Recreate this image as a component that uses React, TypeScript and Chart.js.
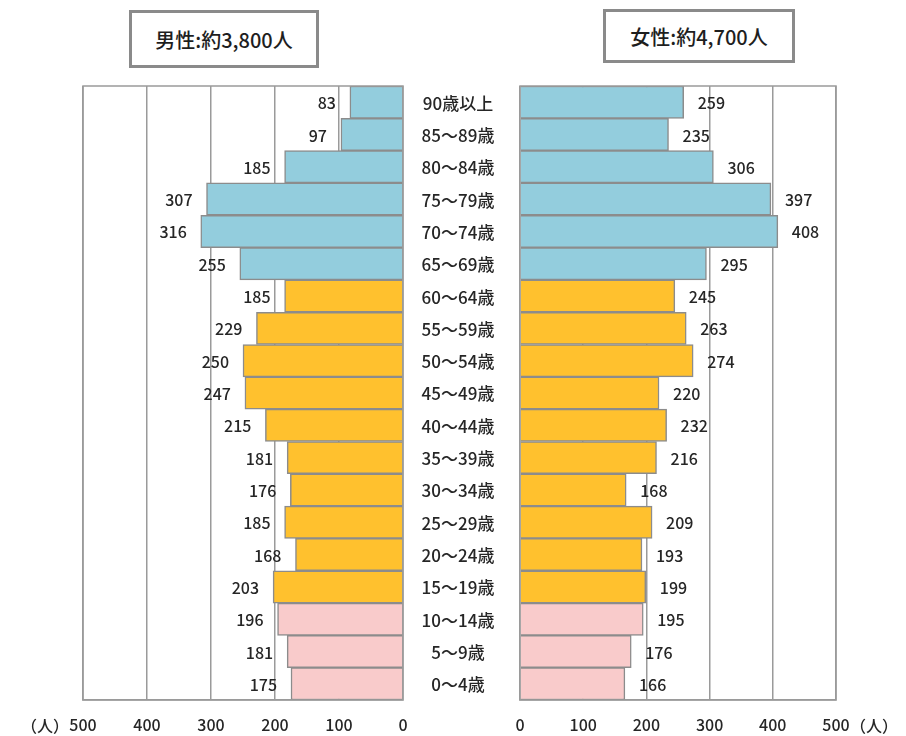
import React, { useEffect, useRef } from "react";
import { Chart, registerables } from "chart.js";

Chart.register(...registerables);

// Age groups, top (oldest) to bottom (youngest)
const ageGroups = [
  "90歳以上", "85〜89歳", "80〜84歳", "75〜79歳", "70〜74歳", "65〜69歳",
  "60〜64歳", "55〜59歳", "50〜54歳", "45〜49歳", "40〜44歳", "35〜39歳",
  "30〜34歳", "25〜29歳", "20〜24歳", "15〜19歳", "10〜14歳", "5〜9歳", "0〜4歳",
];
const maleCounts = [83, 97, 185, 307, 316, 255, 185, 229, 250, 247, 215, 181, 176, 185, 168, 203, 196, 181, 175];
const femaleCounts = [259, 235, 306, 397, 408, 295, 245, 263, 274, 220, 232, 216, 168, 209, 193, 199, 195, 176, 166];
const axisTicks = [0, 100, 200, 300, 400, 500];
const maleTitle = "男性:約3,800人";
const femaleTitle = "女性:約4,700人";
const unitLabel = "（人）";

const FONT = "'Noto Sans CJK JP', 'Noto Sans', sans-serif";
const TEXT = "#262626";
const LINE = "#9a9a9a";

// Colour by age band: 65+ blue, 15–64 orange, 0–14 pink
function bandColor(label: string): string {
  const start = parseInt(label, 10);
  if (start >= 65) return "#93cddd";
  if (start >= 15) return "#ffc12e";
  return "#f9cbcb";
}

const framePlugin = {
  id: "frame",
  afterDatasetsDraw(chart: any) {
    const { ctx, chartArea: a } = chart;
    ctx.save();
    ctx.strokeStyle = LINE;
    ctx.lineWidth = 1.5;
    ctx.strokeRect(a.left, a.top, a.right - a.left, a.bottom - a.top);
    ctx.restore();
  },
};

function valueLabelPlugin(leftSide: boolean) {
  return {
    id: "valueLabels",
    afterDatasetsDraw(chart: any) {
      const { ctx } = chart;
      const meta = chart.getDatasetMeta(0);
      const values = chart.data.datasets[0].data as number[];
      ctx.save();
      ctx.font = `500 16px ${FONT}`;
      ctx.fillStyle = TEXT;
      ctx.textBaseline = "middle";
      ctx.textAlign = leftSide ? "right" : "left";
      meta.data.forEach((bar: any, i: number) => {
        const x = leftSide ? bar.x - 14 : bar.x + 14;
        ctx.fillText(String(values[i]), x, bar.y + 1);
      });
      ctx.restore();
    },
  };
}

const centerLabelsPlugin = {
  id: "centerLabels",
  afterDraw(chart: any) {
    const { ctx } = chart;
    const yScale = chart.scales.y;
    ctx.save();
    ctx.font = `500 17px ${FONT}`;
    ctx.fillStyle = TEXT;
    ctx.textBaseline = "middle";
    ctx.textAlign = "center";
    ageGroups.forEach((label, i) => {
      ctx.fillText(label, 458, yScale.getPixelForValue(i) + 1);
    });
    ctx.restore();
  },
};

function makeConfig(values: number[], leftSide: boolean): any {
  return {
    type: "bar",
    data: {
      labels: ageGroups,
      datasets: [
        {
          data: values,
          backgroundColor: ageGroups.map(bandColor),
          borderColor: "#8c8c8c",
          borderWidth: 1.5,
          barPercentage: 1,
          categoryPercentage: 1,
        },
      ],
    },
    options: {
      indexAxis: "y",
      animation: false,
      responsive: false,
      layout: {
        padding: leftSide
          ? { left: 83, right: 503, top: 86, bottom: 0 }
          : { left: 520, right: 70, top: 86, bottom: 0 },
      },
      plugins: { legend: { display: false }, tooltip: { enabled: false } },
      scales: {
        x: {
          type: "linear",
          min: 0,
          max: 500,
          reverse: leftSide,
          afterBuildTicks: (s: any) => {
            s.ticks = axisTicks.map((v) => ({ value: v }));
          },
          afterFit: (s: any) => {
            s.height = 36;
          },
          ticks: {
            color: TEXT,
            font: { family: FONT, size: 16, weight: "500" },
            padding: 15,
            maxRotation: 0,
          },
          grid: { color: LINE, lineWidth: 1.5, drawTicks: false },
          border: { color: LINE, width: 1.5 },
        },
        y: { display: false },
      },
    },
    plugins: leftSide
      ? [framePlugin, valueLabelPlugin(true)]
      : [framePlugin, valueLabelPlugin(false), centerLabelsPlugin],
  };
}

const titleBox = (left: number, top: number, width: number, height: number): React.CSSProperties => ({
  position: "absolute",
  left,
  top,
  width,
  height,
  boxSizing: "border-box",
  border: "3px solid #8a8a8a",
  display: "flex",
  alignItems: "center",
  justifyContent: "center",
  fontSize: 20,
  fontWeight: 500,
  color: "#1e1e1e",
  fontFamily: FONT,
  background: "#fff",
});

const unitStyle = (left: number): React.CSSProperties => ({
  position: "absolute",
  left,
  top: 713,
  width: 60,
  height: 24,
  lineHeight: "24px",
  textAlign: "center",
  fontSize: 16,
  fontWeight: 500,
  color: TEXT,
  fontFamily: FONT,
});

export default function App() {
  const leftRef = useRef<HTMLCanvasElement>(null);
  const rightRef = useRef<HTMLCanvasElement>(null);

  useEffect(() => {
    const male = new Chart(leftRef.current as HTMLCanvasElement, makeConfig(maleCounts, true));
    const female = new Chart(rightRef.current as HTMLCanvasElement, makeConfig(femaleCounts, false));
    return () => {
      male.destroy();
      female.destroy();
    };
  }, []);

  const canvasStyle: React.CSSProperties = {
    position: "absolute",
    left: 0,
    top: 0,
    width: 906,
    height: 736,
    display: "block",
  };

  return (
    <div
      style={{
        position: "absolute",
        left: 0,
        top: 0,
        width: 906,
        height: 736,
        background: "#fff",
        overflow: "hidden",
      }}
    >
      <canvas ref={leftRef} width={906} height={736} style={canvasStyle} />
      <canvas ref={rightRef} width={906} height={736} style={canvasStyle} />
      <div style={titleBox(129, 10, 190, 58)}>{maleTitle}</div>
      <div style={titleBox(603, 9, 192, 54)}>{femaleTitle}</div>
      <div style={unitStyle(15)}>{unitLabel}</div>
      <div style={unitStyle(844)}>{unitLabel}</div>
    </div>
  );
}
